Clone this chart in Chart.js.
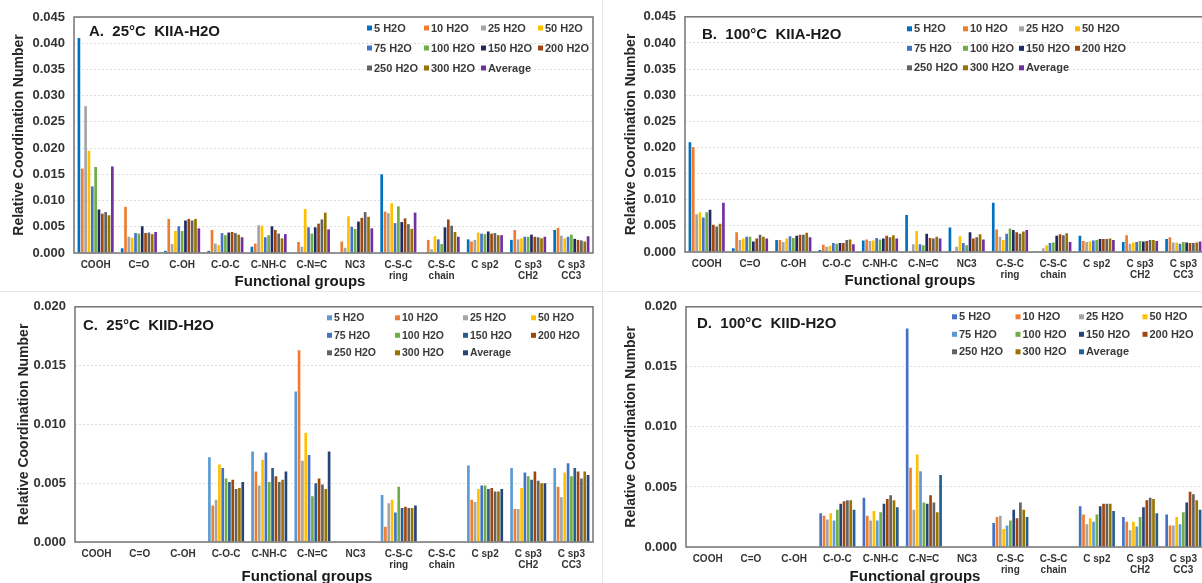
<!DOCTYPE html>
<html>
<head>
<meta charset="utf-8">
<script src="https://cdn.jsdelivr.net/npm/chart.js@4.4.1/dist/chart.umd.min.js"></script>
<style>
  html,body{margin:0;padding:0;background:#fff;}
  #wrap{position:relative;width:1202px;height:583px;overflow:hidden;background:#fff;}
  #wrap canvas{position:absolute;}
  .sep{position:absolute;background:#e8e8e8;}
</style>
</head>
<body>
<div id="wrap">
  <div class="sep" style="left:602px;top:0;width:1px;height:583px"></div>
  <div class="sep" style="left:0;top:291px;width:1202px;height:1px"></div>
  <canvas id="chartA" width="600" height="290" style="left:0;top:0"></canvas>
  <canvas id="chartB" width="600" height="290" style="left:612px;top:0"></canvas>
  <canvas id="chartC" width="600" height="300" style="left:0;top:290px"></canvas>
  <canvas id="chartD" width="600" height="300" style="left:612px;top:290px"></canvas>
</div>
<script>
// functional groups on the x axis
const categories = ['COOH', 'C=O', 'C-OH', 'C-O-C', 'C-NH-C', 'C-N=C', 'NC3',
  ['C-S-C', 'ring'], ['C-S-C', 'chain'], 'C sp2', ['C sp3', 'CH2'], ['C sp3', 'CC3']];

const seriesNames = ['5 H2O', '10 H2O', '25 H2O', '50 H2O', '75 H2O', '100 H2O',
  '150 H2O', '200 H2O', '250 H2O', '300 H2O', 'Average'];

// one row per functional group, columns follow seriesNames
const kiiA25 = [
  [0.0410, 0.0161, 0.0280, 0.0195, 0.0127, 0.0164, 0.0083, 0.0075, 0.0078, 0.0072, 0.0165],
  [0.0009, 0.0088, 0.0031, 0.0029, 0.0038, 0.0037, 0.0051, 0.0038, 0.0039, 0.0036, 0.0040],
  [0.0004, 0.0065, 0.0017, 0.0042, 0.0051, 0.0042, 0.0062, 0.0065, 0.0062, 0.0065, 0.0047],
  [0.0004, 0.0044, 0.0018, 0.0015, 0.0038, 0.0034, 0.0039, 0.0040, 0.0038, 0.0035, 0.0030],
  [0.0012, 0.0018, 0.0053, 0.0052, 0.0030, 0.0034, 0.0051, 0.0044, 0.0037, 0.0028, 0.0036],
  [0.0000, 0.0021, 0.0012, 0.0084, 0.0049, 0.0037, 0.0049, 0.0056, 0.0064, 0.0077, 0.0045],
  [0.0000, 0.0022, 0.0010, 0.0070, 0.0050, 0.0046, 0.0060, 0.0067, 0.0078, 0.0069, 0.0047],
  [0.0150, 0.0079, 0.0076, 0.0095, 0.0057, 0.0089, 0.0059, 0.0066, 0.0055, 0.0046, 0.0077],
  [0.0000, 0.0025, 0.0007, 0.0032, 0.0026, 0.0017, 0.0049, 0.0064, 0.0052, 0.0040, 0.0031],
  [0.0026, 0.0022, 0.0025, 0.0039, 0.0037, 0.0036, 0.0041, 0.0037, 0.0038, 0.0034, 0.0034],
  [0.0025, 0.0044, 0.0026, 0.0028, 0.0031, 0.0031, 0.0035, 0.0031, 0.0030, 0.0028, 0.0031],
  [0.0044, 0.0048, 0.0033, 0.0028, 0.0031, 0.0035, 0.0027, 0.0025, 0.0024, 0.0022, 0.0032]
];

const kiiA100 = [
  [0.0210, 0.0201, 0.0072, 0.0076, 0.0066, 0.0076, 0.0081, 0.0052, 0.0049, 0.0054, 0.0094],
  [0.0007, 0.0038, 0.0023, 0.0026, 0.0029, 0.0029, 0.0020, 0.0026, 0.0033, 0.0029, 0.0026],
  [0.0023, 0.0023, 0.0019, 0.0026, 0.0030, 0.0027, 0.0031, 0.0033, 0.0033, 0.0037, 0.0028],
  [0.0004, 0.0014, 0.0010, 0.0012, 0.0017, 0.0016, 0.0017, 0.0017, 0.0023, 0.0024, 0.0015],
  [0.0022, 0.0024, 0.0021, 0.0022, 0.0027, 0.0024, 0.0026, 0.0031, 0.0028, 0.0032, 0.0026],
  [0.0071, 0.0000, 0.0015, 0.0040, 0.0015, 0.0013, 0.0035, 0.0027, 0.0026, 0.0029, 0.0026],
  [0.0047, 0.0002, 0.0010, 0.0030, 0.0017, 0.0013, 0.0038, 0.0026, 0.0028, 0.0034, 0.0024],
  [0.0094, 0.0043, 0.0029, 0.0023, 0.0035, 0.0045, 0.0042, 0.0038, 0.0035, 0.0039, 0.0042],
  [0.0000, 0.0002, 0.0007, 0.0013, 0.0017, 0.0018, 0.0031, 0.0034, 0.0032, 0.0036, 0.0019],
  [0.0031, 0.0021, 0.0019, 0.0020, 0.0022, 0.0023, 0.0025, 0.0025, 0.0025, 0.0026, 0.0023],
  [0.0019, 0.0032, 0.0016, 0.0018, 0.0019, 0.0021, 0.0020, 0.0021, 0.0023, 0.0023, 0.0021],
  [0.0025, 0.0028, 0.0018, 0.0018, 0.0016, 0.0019, 0.0018, 0.0017, 0.0017, 0.0018, 0.0020]
];

const kiiD25 = [
  [0, 0, 0, 0, 0, 0, 0, 0, 0, 0, 0],
  [0, 0, 0, 0, 0, 0, 0, 0, 0, 0, 0],
  [0, 0, 0, 0, 0, 0, 0, 0, 0, 0, 0],
  [0.0072, 0.0031, 0.0036, 0.0066, 0.0063, 0.0054, 0.0051, 0.0053, 0.0045, 0.0046, 0.0051],
  [0.0077, 0.0060, 0.0048, 0.0070, 0.0076, 0.0051, 0.0063, 0.0056, 0.0051, 0.0053, 0.0060],
  [0.0128, 0.0163, 0.0069, 0.0093, 0.0074, 0.0039, 0.0050, 0.0054, 0.0049, 0.0045, 0.0077],
  [0, 0, 0, 0, 0, 0, 0, 0, 0, 0, 0],
  [0.0040, 0.0013, 0.0033, 0.0036, 0.0025, 0.0047, 0.0029, 0.0030, 0.0029, 0.0029, 0.0031],
  [0, 0, 0, 0, 0, 0, 0, 0, 0, 0, 0],
  [0.0065, 0.0036, 0.0034, 0.0045, 0.0048, 0.0048, 0.0045, 0.0046, 0.0043, 0.0043, 0.0045],
  [0.0063, 0.0028, 0.0028, 0.0046, 0.0059, 0.0056, 0.0053, 0.0060, 0.0052, 0.0050, 0.0050],
  [0.0063, 0.0047, 0.0038, 0.0059, 0.0067, 0.0056, 0.0063, 0.0060, 0.0054, 0.0060, 0.0057]
];

const kiiD100 = [
  [0, 0, 0, 0, 0, 0, 0, 0, 0, 0, 0],
  [0, 0, 0, 0, 0, 0, 0, 0, 0, 0, 0],
  [0, 0, 0, 0, 0, 0, 0, 0, 0, 0, 0],
  [0.0028, 0.0026, 0.0023, 0.0028, 0.0022, 0.0031, 0.0036, 0.0038, 0.0039, 0.0039, 0.0031],
  [0.0041, 0.0026, 0.0022, 0.0030, 0.0022, 0.0029, 0.0036, 0.0040, 0.0043, 0.0039, 0.0033],
  [0.0182, 0.0066, 0.0031, 0.0077, 0.0063, 0.0037, 0.0036, 0.0043, 0.0037, 0.0029, 0.0060],
  [0, 0, 0, 0, 0, 0, 0, 0, 0, 0, 0],
  [0.0020, 0.0025, 0.0026, 0.0015, 0.0018, 0.0022, 0.0031, 0.0024, 0.0037, 0.0031, 0.0025],
  [0, 0, 0, 0, 0, 0, 0, 0, 0, 0, 0],
  [0.0034, 0.0027, 0.0019, 0.0024, 0.0021, 0.0027, 0.0034, 0.0036, 0.0036, 0.0036, 0.0030],
  [0.0025, 0.0021, 0.0014, 0.0021, 0.0017, 0.0025, 0.0033, 0.0039, 0.0041, 0.0040, 0.0028],
  [0.0027, 0.0018, 0.0018, 0.0025, 0.0019, 0.0029, 0.0037, 0.0046, 0.0044, 0.0039, 0.0031]
];

const colorsIIA = ['#0070C0', '#ED7D31', '#A5A5A5', '#FFC000', '#4472C4', '#70AD47',
  '#1F2A60', '#9E480E', '#636363', '#997300', '#7030A0'];
const colorsIID25 = ['#5B9BD5', '#ED7D31', '#A5A5A5', '#FFC000', '#4472C4', '#70AD47',
  '#255E91', '#9E480E', '#636363', '#997300', '#264478'];
const colorsIID100 = ['#4472C4', '#ED7D31', '#A5A5A5', '#FFC000', '#5B9BD5', '#70AD47',
  '#264478', '#9E480E', '#636363', '#997300', '#255E91'];

const FONT = '"Liberation Sans", Arial, sans-serif';
Chart.defaults.font.family = FONT;

// frame, panel title, 4-column legend and x title
const panelDecor = {
  id: 'panelDecor',
  afterDatasetsDraw(chart, args, o) {
    const { ctx, chartArea: a } = chart;
    ctx.save();
    ctx.strokeStyle = '#737373';
    ctx.lineWidth = 1.5;
    ctx.strokeRect(a.left, a.top, a.right - a.left, a.bottom - a.top);
    ctx.restore();
  },
  afterDraw(chart, args, o) {
    const { ctx, chartArea: a } = chart;
    ctx.save();
    ctx.textBaseline = 'middle';
    ctx.textAlign = 'left';
    ctx.fillStyle = '#1a1a1a';
    ctx.font = 'bold 15px ' + FONT;
    ctx.fillText(o.title, a.left + o.titleX, a.top + o.titleY);

    ctx.font = 'bold ' + o.legFont + 'px ' + FONT;
    chart.data.datasets.forEach((ds, i) => {
      const x = a.left + o.legX + (i % 4) * o.legColW;
      const y = a.top + o.legY + Math.floor(i / 4) * o.legRowH;
      ctx.fillStyle = ds.backgroundColor;
      ctx.fillRect(x, y - 2.5, 5, 5);
      ctx.fillStyle = '#3a3a3a';
      ctx.fillText(ds.label, x + 7, y + 0.5);
    });

    ctx.textAlign = 'center';
    ctx.fillStyle = '#1a1a1a';
    ctx.font = 'bold 15px ' + FONT;
    ctx.fillText('Functional groups', a.left + o.xTitleDx, a.bottom + o.xTitleDy);
    ctx.restore();
  }
};

function buildDatasets(rows, colors) {
  return seriesNames.map((name, s) => ({
    label: name,
    data: rows.map(r => r[s]),
    backgroundColor: colors[s],
    borderWidth: 0
  }));
}

function makePanel(id, rows, colors, p) {
  new Chart(document.getElementById(id), {
    type: 'bar',
    data: { labels: categories, datasets: buildDatasets(rows, colors) },
    plugins: [panelDecor],
    options: {
      responsive: false,
      animation: false,
      layout: { padding: { top: p.top, right: 7, left: 0, bottom: 0 } },
      datasets: { bar: { categoryPercentage: 0.85, barPercentage: 0.8 } },
      plugins: {
        legend: { display: false },
        tooltip: { enabled: false },
        panelDecor: p.decor
      },
      scales: {
        x: {
          grid: { display: false, drawTicks: false },
          border: { display: false },
          ticks: {
            autoSkip: false, maxRotation: 0, padding: 6.5, color: '#333',
            font: { size: 10, weight: 'bold', lineHeight: 1.1 }
          },
          afterFit: s => { s.height = p.xh; }
        },
        y: {
          min: 0, max: p.max,
          grid: { color: '#dedede', lineWidth: 1, drawTicks: false },
          border: { display: false, dash: [2, 2] },
          ticks: {
            stepSize: 0.005, padding: 9, color: '#333',
            font: { size: 13, weight: 'bold' },
            callback: v => v.toFixed(3)
          },
          title: {
            display: true, text: 'Relative Coordination Number', color: '#262626',
            font: { size: 14, weight: 'bold' }, padding: { top: p.yTitlePad, bottom: 0 }
          },
          afterFit: s => { s.width = p.yw; }
        }
      }
    }
  });
}

makePanel('chartA', kiiA25, colorsIIA, {
  top: 17, xh: 37, yw: 74, max: 0.045, yTitlePad: 10.5,
  decor: { title: 'A.  25°C  KIIA-H2O', titleX: 15, titleY: 15,
    legX: 293, legY: 11, legColW: 57, legRowH: 20, legFont: 11, xTitleDx: 226, xTitleDy: 29 }
});
makePanel('chartB', kiiA100, colorsIIA, {
  top: 16, xh: 38, yw: 73, max: 0.045, yTitlePad: 10.5,
  decor: { title: 'B.  100°C  KIIA-H2O', titleX: 17, titleY: 18,
    legX: 222, legY: 12, legColW: 56, legRowH: 19.5, legFont: 11, xTitleDx: 225, xTitleDy: 29 }
});
makePanel('chartC', kiiD25, colorsIID25, {
  top: 14, xh: 48, yw: 75, max: 0.020, yTitlePad: 16,
  decor: { title: 'C.  25°C  KIID-H2O', titleX: 8, titleY: 19,
    legX: 252, legY: 11, legColW: 68, legRowH: 17.5, legFont: 10.5, xTitleDx: 232, xTitleDy: 35 }
});
makePanel('chartD', kiiD100, colorsIID100, {
  top: 16, xh: 43, yw: 74, max: 0.020, yTitlePad: 10.5,
  decor: { title: 'D.  100°C  KIID-H2O', titleX: 11, titleY: 17,
    legX: 266, legY: 10, legColW: 63.5, legRowH: 17.5, legFont: 11, xTitleDx: 229, xTitleDy: 30 }
});
</script>
</body>
</html>
